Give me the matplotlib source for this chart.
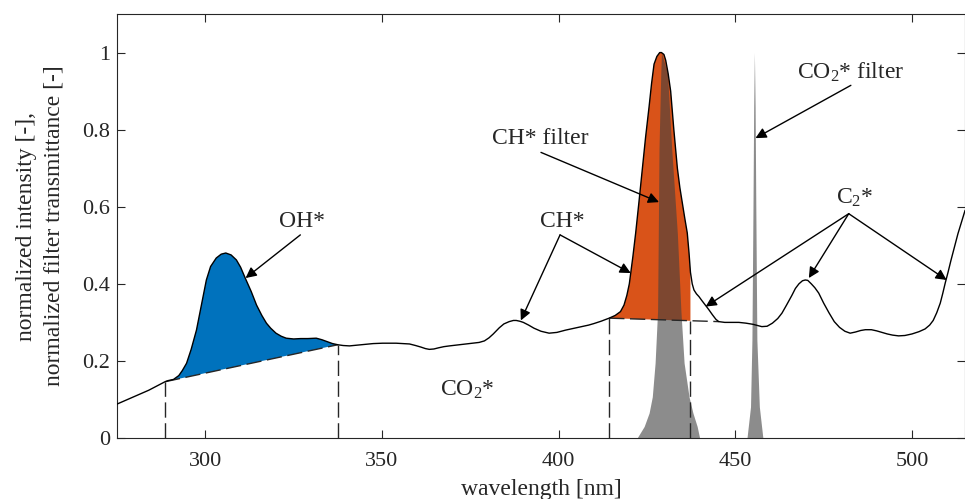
import matplotlib
matplotlib.use('Agg')
import matplotlib.pyplot as plt
import numpy as np

plt.rcParams['font.family'] = ['Liberation Serif', 'DejaVu Serif']
plt.rcParams['mathtext.fontset'] = 'custom'
plt.rcParams['mathtext.rm'] = 'Liberation Serif'
plt.rcParams['mathtext.it'] = 'Liberation Serif'

# emission spectrum
wl = np.array([275, 278, 281, 284, 286.5, 288.6, 289.5, 291, 292.5, 293.5,
               294.7, 296, 297.5, 299, 300.3, 301.5, 303.1, 304.5, 305.8, 307.3,
               308.8, 310, 311.3, 313, 314.5, 316, 317.3, 318.5, 320, 321.5,
               322.9, 325, 327, 329, 331.4, 333, 334.5, 336, 337.5, 339,
               340.8, 343, 345, 347.5, 350.2, 352, 354, 356, 357.8, 359.5,
               361, 362.3, 363.4, 364.7, 366, 367.5, 369.1, 371, 373, 375,
               377.5, 379, 380.3, 381.5, 383.2, 384.5, 386, 387.2, 388, 389,
               390, 391.5, 393, 395, 397.3, 399.5, 402, 404.5, 406.6, 408.5,
               410, 412, 414.3, 416, 417.5, 418.5, 419.3, 420, 420.4, 421,
               421.8, 422.7, 423.7, 424.6, 425.6, 426.3, 427, 427.8, 428.6, 429.1,
               429.8, 430.3, 431, 431.7, 432.6, 433.6, 434.3, 435, 435.7, 436.4,
               436.9, 437.3, 437.8, 438.3, 439, 439.7, 440.5, 441.5, 442.5, 443.5,
               444.5, 445.3, 447, 449, 451, 453, 455, 457.5, 459, 460.5,
               462, 463.2, 464.5, 466, 467, 468, 469, 469.8, 470.5, 471.5,
               472.5, 473.6, 475, 476.5, 478, 479.5, 481, 482.5, 484, 485.5,
               486.8, 488.5, 490, 491.5, 493, 494.5, 496.2, 498, 500, 502,
               503.7, 505, 506, 507, 508, 508.7, 509.4, 510.2, 511, 512,
               513, 514, 515])
intensity = np.array([0.088, 0.100, 0.112, 0.124, 0.136, 0.146, 0.149, 0.152, 0.162, 0.175,
                      0.194, 0.230, 0.280, 0.350, 0.410, 0.445, 0.467, 0.477, 0.480, 0.475,
                      0.462, 0.443, 0.415, 0.380, 0.345, 0.318, 0.298, 0.285, 0.272, 0.264,
                      0.259, 0.257, 0.258, 0.258, 0.259, 0.255, 0.250, 0.245, 0.242, 0.240,
                      0.239, 0.241, 0.243, 0.245, 0.246, 0.246, 0.246, 0.245, 0.244, 0.240,
                      0.236, 0.232, 0.230, 0.231, 0.234, 0.237, 0.239, 0.241, 0.243, 0.245,
                      0.248, 0.252, 0.260, 0.270, 0.286, 0.296, 0.302, 0.305, 0.305, 0.303,
                      0.300, 0.293, 0.285, 0.277, 0.272, 0.274, 0.280, 0.285, 0.289, 0.293,
                      0.297, 0.303, 0.311, 0.318, 0.328, 0.345, 0.370, 0.400, 0.428, 0.470,
                      0.532, 0.610, 0.700, 0.780, 0.860, 0.920, 0.970, 0.990, 1.000, 1.000,
                      0.995, 0.980, 0.945, 0.900, 0.800, 0.700, 0.650, 0.610, 0.570, 0.532,
                      0.480, 0.430, 0.400, 0.384, 0.374, 0.367, 0.357, 0.345, 0.333, 0.320,
                      0.308, 0.302, 0.300, 0.300, 0.300, 0.298, 0.295, 0.289, 0.290, 0.298,
                      0.310, 0.324, 0.345, 0.370, 0.388, 0.400, 0.408, 0.410, 0.409, 0.400,
                      0.390, 0.376, 0.350, 0.325, 0.302, 0.287, 0.277, 0.272, 0.275, 0.279,
                      0.281, 0.281, 0.278, 0.274, 0.270, 0.267, 0.265, 0.266, 0.270, 0.276,
                      0.283, 0.293, 0.305, 0.325, 0.350, 0.375, 0.402, 0.430, 0.460, 0.495,
                      0.530, 0.560, 0.590])

# filter transmittance curves
ch_wl = np.array([422.2, 424.2, 425.6, 426.5, 427.3, 428.0, 428.2, 428.4, 428.9, 429.1,
                  430.8, 432.0, 433.6, 434.6, 435.5, 436.9, 438.0, 439.2, 439.9])
ch_tr = np.array([0.0, 0.03, 0.065, 0.107, 0.195, 0.33, 0.53, 0.75, 0.947, 1.0,
                  0.947, 0.75, 0.53, 0.33, 0.195, 0.107, 0.065, 0.03, 0.0])
co2_wl = np.array([453.3, 454.3, 454.7, 455.0, 455.2, 455.4, 455.6, 455.8, 456.1, 456.8, 457.8])
co2_tr = np.array([0.0, 0.081, 0.255, 0.6, 0.86, 1.0, 0.86, 0.6, 0.255, 0.081, 0.0])

# integration windows: (start, end) and baseline end points
oh_lim = (288.6, 337.5)
oh_base = (0.146, 0.242)
ch_lim = (414.3, 437.3)
ch_base = (0.311, 0.304)
ch_base_end = (445.3, 0.302)

blue = '#0072BD'
orange = '#D95319'
txt = '#262626'

fig = plt.figure(figsize=(9.65, 4.99), dpi=100)
ax = fig.add_axes([0.1212, 0.1222, 0.8788, 0.8497])

# OH* band area
m = (wl >= oh_lim[0]) & (wl <= oh_lim[1])
px = np.concatenate([wl[m], [oh_lim[1], oh_lim[0]]])
py = np.concatenate([intensity[m], [oh_base[1], oh_base[0]]])
ax.fill(px, py, color=blue, lw=0, zorder=1)

# CH* band area
m = (wl >= ch_lim[0]) & (wl <= ch_lim[1])
px = np.concatenate([wl[m], [ch_lim[1], ch_lim[0]]])
py = np.concatenate([intensity[m], [ch_base[1], ch_base[0]]])
ax.fill(px, py, color=orange, lw=0, zorder=1)

# filters
ax.fill_between(ch_wl, 0, ch_tr, color=(0.25, 0.25, 0.25), alpha=0.6, lw=0, zorder=2)
ax.fill_between(co2_wl, 0, co2_tr, color=(0.25, 0.25, 0.25), alpha=0.6, lw=0, zorder=2)

# baselines and window limits
dash = dict(color=txt, lw=1, dashes=(11, 4), zorder=3)
ax.plot(oh_lim, oh_base, **dash)
ax.plot([ch_lim[0], ch_base_end[0]], [ch_base[0], ch_base_end[1]], **dash)
for xv, yv in zip(oh_lim, oh_base):
    ax.plot([xv, xv], [0, yv], **dash)
for xv, yv in zip(ch_lim, ch_base):
    ax.plot([xv, xv], [0, yv], **dash)

ax.plot(wl, intensity, color='k', lw=1, zorder=4)

# annotations
ap = dict(arrowstyle='-|>', color='k', lw=1, mutation_scale=16, shrinkA=0, shrinkB=0)
fs = 17
ax.text(327.5, 0.562, 'OH*', ha='center', va='center', fontsize=fs, color=txt)
ax.annotate('', xy=(311.4, 0.415), xytext=(326.9, 0.527), arrowprops=ap, zorder=5)

ax.text(400.9, 0.562, 'CH*', ha='center', va='center', fontsize=fs, color=txt)
for tx, ty in [(389.3, 0.305), (420.4, 0.428)]:
    ax.annotate('', xy=(tx, ty), xytext=(400.4, 0.527), arrowprops=ap, zorder=5)

ax.text(394.8, 0.777, 'CH* filter', ha='center', va='center', fontsize=fs, color=txt)
ax.annotate('', xy=(428.4, 0.612), xytext=(395, 0.741), arrowprops=ap, zorder=5)

ax.text(482.6, 0.949, r'CO$_2$* filter', ha='center', va='center', fontsize=fs, color=txt)
ax.annotate('', xy=(455.7, 0.778), xytext=(482.7, 0.915), arrowprops=ap, zorder=5)

ax.text(483.7, 0.623, r'C$_2$*', ha='center', va='center', fontsize=fs, color=txt)
for tx, ty in [(441.6, 0.341), (470.8, 0.415), (509.8, 0.41)]:
    ax.annotate('', xy=(tx, ty), xytext=(482.1, 0.582), arrowprops=ap, zorder=5)

ax.text(374.1, 0.125, r'CO$_2$*', ha='center', va='center', fontsize=fs, color=txt)

# axes formatting
ax.set_xlim(275, 515)
ax.set_ylim(0, 1.1)
ax.set_xticks([300, 350, 400, 450, 500])
ax.set_yticks([0, 0.2, 0.4, 0.6, 0.8, 1])
ax.set_yticklabels(['0', '0.2', '0.4', '0.6', '0.8', '1'])
ax.tick_params(direction='in', length=6, width=0.8, colors=txt, labelsize=16,
               top=True, right=True)
ax.tick_params(axis='x', pad=10)
ax.tick_params(axis='y', pad=5)
for s in ax.spines.values():
    s.set_color(txt)
    s.set_linewidth(0.8)
ax.set_xlabel('wavelength [nm]', fontsize=17, color=txt, labelpad=6)
ax.set_ylabel('normalized intensity [-],\nnormalized filter transmittance [-]',
              fontsize=17, color=txt, labelpad=13, linespacing=1.35)

fig.savefig('out.png', dpi=100)
